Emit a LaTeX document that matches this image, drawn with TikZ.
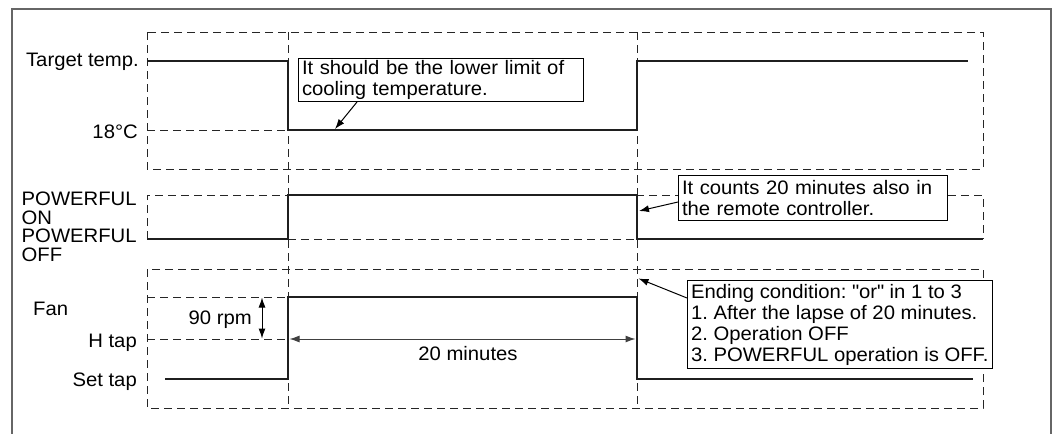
\documentclass[tikz,border=0pt]{standalone}
\usepackage{fontspec}
\setmainfont{Liberation Sans}[FakeStretch=1.04]
\usetikzlibrary{arrows.meta}
\newcommand\dgfont{\fontsize{19.5}{21}\selectfont\frenchspacing\hyphenpenalty=10000\relax}
\newcommand\dgfontt{\fontsize{19.5}{18.5}\selectfont}
\begin{document}
\begin{tikzpicture}[x=1pt,y=-1pt,
  sig/.style={line width=2.4pt, color=black!88, line join=miter},
  dsh/.style={line width=0.9pt, dash pattern=on 8pt off 5pt, color=black!85},
  frm/.style={line width=1.4pt, color=black!60},
  arr/.style={line width=1pt, -{Latex[length=10pt,width=7pt]}},
  darr/.style={line width=1pt, black!75, {Latex[length=10pt,width=7pt]}-{Latex[length=10pt,width=7pt]}},
  lab/.style={inner sep=0pt, font=\dgfont},
  labt/.style={inner sep=0pt, font=\dgfontt, align=left, anchor=north west},
  call/.style={draw, line width=1pt, fill=white, align=left, inner xsep=3.5pt, inner ysep=0pt, font=\dgfont, anchor=north west},
]
\useasboundingbox (0,0) rectangle (1053,434);
% outer frame
\draw[frm] (12,434) -- (12,9) -- (1051,9) -- (1051,434);

% dashed guides
\draw[dsh] (147,32) rectangle (983,169);
\draw[dsh] (147,130) -- (288,130);
\draw[dsh] (147,239) -- (147,195) -- (983,195) -- (983,239);
\draw[dsh] (288,239) -- (637,239);
\draw[dsh] (147,269) rectangle (983,408);
\draw[dsh] (147,297) -- (288,297);
\draw[dsh] (147,339) -- (288,339);
\draw[dsh] (288,32) -- (288,408);
\draw[dsh] (637,32) -- (637,408);

% signals
\draw[sig] (147,61) -- (288,61) -- (288,130) -- (637,130) -- (637,61) -- (968,61);
\draw[sig] (147,239) -- (288,239) -- (288,195) -- (637,195) -- (637,239) -- (983,239);
\draw[sig] (165,379) -- (288,379) -- (288,297) -- (637,297) -- (637,379) -- (973,379);

% left labels
\node[lab, anchor=base east] (ltarget) at (139,66) {Target temp.};
\node[lab, anchor=base east] (l18) at (138,138) {18\textdegree C};
\node[labt] (lpon) at (21.5,192) {POWERFUL\\ON};
\node[labt] (lpoff) at (21.5,229) {POWERFUL\\OFF};
\node[lab, anchor=base west] (lfan) at (33,315) {Fan};
\node[lab, anchor=base east] (lhtap) at (137,347) {H tap};
\node[lab, anchor=base east] (lset) at (137,386) {Set tap};

% dimension arrows
\coordinate (r1) at (262,297.5);
\coordinate (r2) at (262,338.5);
\draw[darr, black] (r1) -- (r2);
\node[lab, anchor=base east] (lrpm) at (252,324) {90 rpm};
\coordinate (m1) at (289.5,339);
\coordinate (m2) at (635.5,339);
\draw[darr] (m1) -- (m2);
\node[lab, anchor=base] (lmin) at (468,360) {20 minutes};

% callouts
\node[call, text width=278pt, minimum height=43pt] (c1) at (298,58)
  {It should be the lower limit of\\cooling temperature.};
\node[call, text width=262pt, minimum height=45pt] (c2) at (678,175)
  {It counts 20 minutes also in\\the remote controller.};
\node[call, minimum height=88pt] (c3) at (687,280)
  {Ending condition: \textquotedbl or\textquotedbl{} in 1 to 3\\1. After the lapse of 20 minutes.\\2. Operation OFF\\3. POWERFUL operation is OFF.};

\coordinate (tip1) at (335,129);
\coordinate (tip2) at (639,211);
\coordinate (tip3) at (638.5,278.5);
\draw[arr] ([xshift=59pt]c1.south west) -- (tip1);
\draw[arr] ([yshift=-27pt]c2.north west) -- (tip2);
\draw[arr] ([yshift=-18pt]c3.north west) -- (tip3);
\end{tikzpicture}
\end{document}
